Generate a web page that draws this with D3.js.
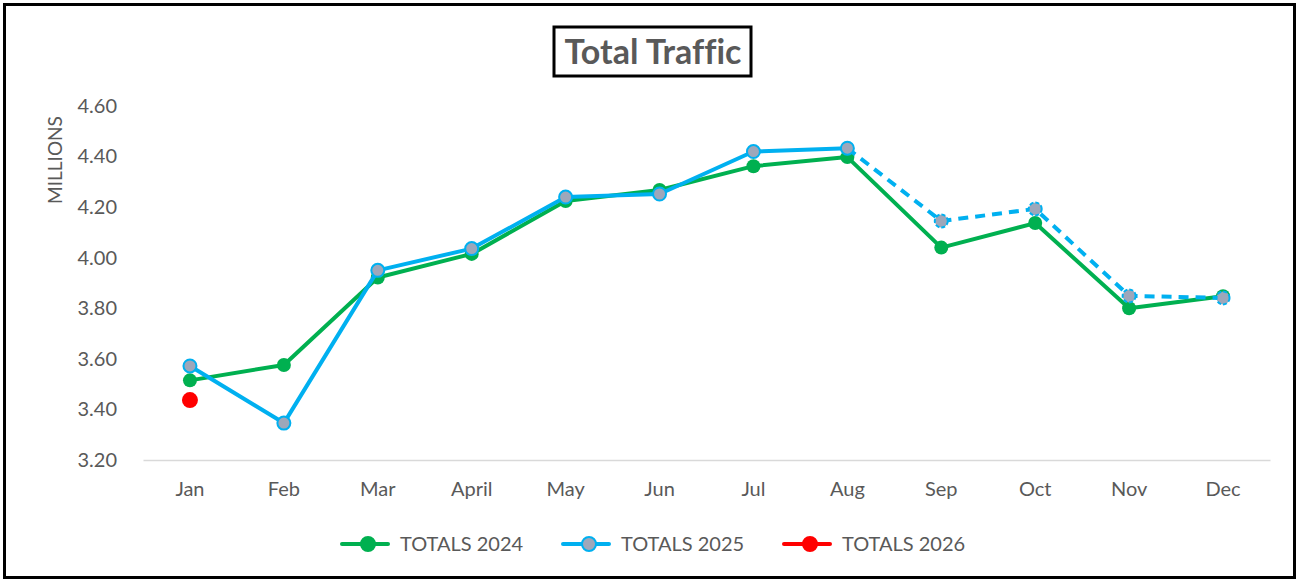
<!DOCTYPE html>
<html>
<head>
<meta charset="utf-8">
<script src="https://cdn.jsdelivr.net/npm/d3@7"></script>
<style>
  body { margin: 0; background: #fff; }
  text { font-family: Lato, "Open Sans", sans-serif; font-variant-ligatures: none; }
</style>
</head>
<body>
<div id="chart"></div>
<script>
// chart data
const months = ["Jan", "Feb", "Mar", "April", "May", "Jun", "Jul", "Aug", "Sep", "Oct", "Nov", "Dec"];
const totals2024 = [3.515, 3.576, 3.922, 4.015, 4.224, 4.268, 4.362, 4.398, 4.040, 4.137, 3.800, 3.848];
const totals2025 = [3.572, 3.346, 3.950, 4.036, 4.240, 4.252, 4.420, 4.433, 4.145, 4.193, 3.849, 3.841];
const totals2026 = [3.437];
const forecastFrom = 7; // 2025 values after Aug are dashed
const yTicks = [3.2, 3.4, 3.6, 3.8, 4.0, 4.2, 4.4, 4.6];

const W = 1300, H = 583;
const svg = d3.select("#chart").append("svg")
  .attr("width", W).attr("height", H);

// outer frame
svg.append("rect").attr("x", 4.5).attr("y", 4.5).attr("width", 1290).attr("height", 573)
  .attr("fill", "#fff").attr("stroke", "#000").attr("stroke-width", 3);

// title with box
svg.append("rect").attr("x", 554).attr("y", 27).attr("width", 197).attr("height", 49)
  .attr("fill", "#fff").attr("stroke", "#000").attr("stroke-width", 3);
svg.append("text").attr("x", 653).attr("y", 64).attr("text-anchor", "middle")
  .attr("font-size", 34).attr("font-weight", "bold").attr("fill", "#595959")
  .text("Total Traffic");

const x = d3.scaleBand().domain(months).range([143, 1270]);
const y = d3.scaleLinear().domain([3.2, 4.6]).range([460, 106]);
const cx = m => x(m) + x.bandwidth() / 2;

// y axis labels
const yAxis = svg.append("g").attr("transform", "translate(120,0)")
  .call(d3.axisLeft(y).tickValues(yTicks).tickFormat(d3.format(".2f")).tickSize(0));
yAxis.select(".domain").remove();
yAxis.selectAll("text").attr("font-size", 20).attr("fill", "#595959")
  .attr("font-family", "Lato, 'Open Sans', sans-serif").attr("dx", 0);

svg.append("text").attr("transform", "translate(62,160) rotate(-90)")
  .attr("text-anchor", "middle").attr("font-size", 19).attr("fill", "#595959")
  .text("MILLIONS");

// x axis
const xAxis = svg.append("g").attr("transform", "translate(0,460)")
  .call(d3.axisBottom(x).tickSize(0).tickPadding(22));
xAxis.select(".domain").attr("stroke", "#d9d9d9").attr("stroke-width", 1.5);
xAxis.selectAll("text").attr("font-size", 20).attr("fill", "#595959")
  .attr("font-family", "Lato, 'Open Sans', sans-serif");

const line = d3.line().x(d => cx(d.m)).y(d => y(d.v));
const pts = arr => arr.map((v, i) => ({ m: months[i], v: v, i: i }));

// 2024
svg.append("path").datum(pts(totals2024)).attr("d", line)
  .attr("fill", "none").attr("stroke", "#00B050").attr("stroke-width", 4)
  .attr("stroke-linejoin", "round");
svg.append("g").selectAll("circle").data(pts(totals2024)).join("circle")
  .attr("cx", d => cx(d.m)).attr("cy", d => y(d.v)).attr("r", 7)
  .attr("fill", "#00B050");

// 2025 solid then dashed forecast
const p25 = pts(totals2025);
svg.append("path").datum(p25.slice(0, forecastFrom + 1)).attr("d", line)
  .attr("fill", "none").attr("stroke", "#00B0F0").attr("stroke-width", 4)
  .attr("stroke-linejoin", "round");
svg.append("path").datum(p25.slice(forecastFrom)).attr("d", line)
  .attr("fill", "none").attr("stroke", "#00B0F0").attr("stroke-width", 4)
  .attr("stroke-dasharray", "10,7");
svg.append("g").selectAll("circle").data(p25).join("circle")
  .attr("cx", d => cx(d.m)).attr("cy", d => y(d.v)).attr("r", 6.5)
  .attr("fill", "#9EA7BA").attr("stroke", "#00B0F0").attr("stroke-width", 2)
  .attr("stroke-dasharray", d => d.i > forecastFrom ? "4,2" : null);

// 2026
svg.append("g").selectAll("circle").data(pts(totals2026)).join("circle")
  .attr("cx", d => cx(d.m)).attr("cy", d => y(d.v)).attr("r", 8)
  .attr("fill", "#FF0000");

// legend
const legend = [
  { name: "TOTALS 2024", color: "#00B050", fill: "#00B050", x: 342 },
  { name: "TOTALS 2025", color: "#00B0F0", fill: "#9EA7BA", x: 563 },
  { name: "TOTALS 2026", color: "#FF0000", fill: "#FF0000", x: 784 }
];
const lg = svg.append("g").selectAll("g").data(legend).join("g")
  .attr("transform", d => `translate(${d.x},544)`);
lg.append("line").attr("x1", 0).attr("x2", 46)
  .attr("stroke", d => d.color).attr("stroke-width", 4).attr("stroke-linecap", "round");
lg.append("circle").attr("cx", 26).attr("r", 7).attr("fill", d => d.fill)
  .attr("stroke", d => d.color).attr("stroke-width", 2);
lg.append("text").attr("x", 58).attr("y", 7).attr("font-size", 20).attr("fill", "#595959")
  .text(d => d.name);
</script>
</body>
</html>
